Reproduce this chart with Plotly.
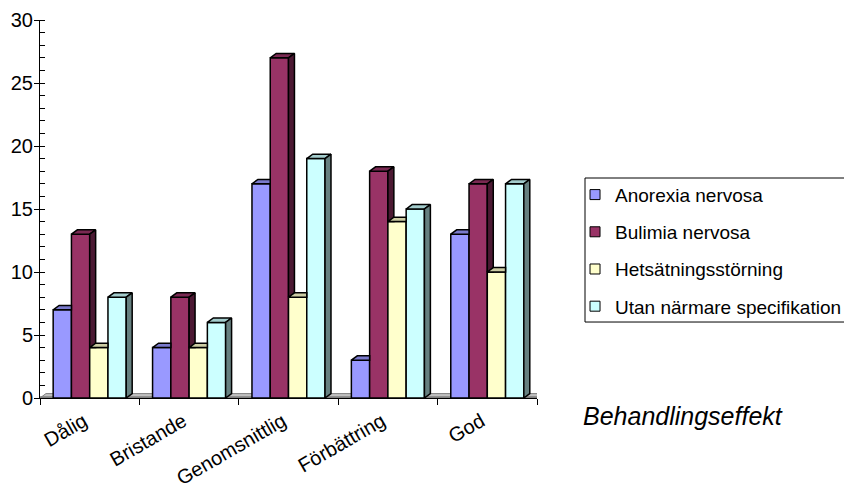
import plotly.graph_objects as go

# ---- data ----
categories = ["Dålig", "Bristande", "Genomsnittlig", "Förbättring", "God"]
series_names = ["Anorexia nervosa", "Bulimia nervosa", "Hetsätningsstörning", "Utan närmare specifikation"]
anorexia = [7, 4, 17, 3, 13]
bulimia = [13, 8, 27, 18, 17]
hets = [4, 4, 8, 14, 10]
utan = [8, 6, 19, 15, 17]
y_ticks = [0, 5, 10, 15, 20, 25, 30]

# ---- styles ----
front_colors = ["#9999FF", "#993366", "#FFFFCC", "#CCFFFF"]
top_colors = ["#7A7ACC", "#7A2952", "#CCCCA3", "#A3CCCC"]
side_colors = ["#4C4C80", "#4C1933", "#808066", "#668080"]
FONT = "Arial, 'Liberation Sans', sans-serif"

values = [anorexia, bulimia, hets, utan]
n_series = len(values)
xpos = list(range(len(categories)))
group_width = 0.735
w = group_width / n_series
dx, dy = 0.06, 0.35  # oblique depth in data units
label_shift = 0.06   # rotated labels end at the top-right corner like the original

fig = go.Figure()

# front faces
for j, vals in enumerate(values):
    fig.add_trace(go.Bar(
        x=xpos, y=vals, name=series_names[j],
        width=w, offset=-group_width / 2 + j * w,
        marker=dict(color=front_colors[j], line=dict(color="black", width=1.5)),
        showlegend=False,
    ))

# top & side faces (oblique 3D effect), clipped by the next bar in front
for j, vals in enumerate(values):
    top_x, top_y, side_x, side_y = [], [], [], []
    for i, v in enumerate(vals):
        x0 = xpos[i] - group_width / 2 + j * w
        x1 = x0 + w
        nxt = values[j + 1][i] if j + 1 < n_series else None
        if nxt is not None and nxt > v:
            top_x += [x0, x0 + dx, x1, x1, x0, None]
            top_y += [v, v + dy, v + dy, v, v, None]
        else:
            top_x += [x0, x0 + dx, x1 + dx, x1, x0, None]
            top_y += [v, v + dy, v + dy, v, v, None]
        if nxt is None:
            side_x += [x1, x1, x1 + dx, x1 + dx, x1, None]
            side_y += [0, v, v + dy, dy, 0, None]
        elif nxt < v:
            lo = nxt
            side_x += [x1, x1, x1 + dx, x1 + dx, x1, None]
            side_y += [lo, v, v + dy, max(lo, dy), lo, None]
    fig.add_trace(go.Scatter(x=top_x, y=top_y, mode="lines", fill="toself",
                             fillcolor=top_colors[j], line=dict(color="black", width=1.5),
                             showlegend=False, hoverinfo="skip"))
    if side_x:
        fig.add_trace(go.Scatter(x=side_x, y=side_y, mode="lines", fill="toself",
                                 fillcolor=side_colors[j], line=dict(color="black", width=1.5),
                                 showlegend=False, hoverinfo="skip"))

# legend entries
for j in range(n_series):
    fig.add_trace(go.Scatter(
        x=[None], y=[None], mode="markers", name=series_names[j],
        legendgroup=f"g{j}",
        marker=dict(symbol="square", size=10, color=front_colors[j],
                    line=dict(color="black", width=1)),
    ))

xmin, xmax = -0.5, len(categories) - 0.5

# floor
fig.add_shape(type="path", xref="x", yref="y", layer="below",
              path=f"M {xmin},0 L {xmin + dx},{dy} L {xmax + dx},{dy} L {xmax},0 Z",
              fillcolor="#C0C0C0", line=dict(color="#808080", width=1))
fig.add_shape(type="rect", xref="x", yref="y", layer="below",
              x0=xmin, x1=xmax, y0=0, y1=0.14,
              fillcolor="#808080", line=dict(width=0))

# legend border
fig.add_shape(type="rect", xref="paper", yref="paper",
              x0=1.0966, x1=1.75, y0=0.201, y1=0.582,
              line=dict(color="black", width=1), fillcolor="rgba(0,0,0,0)")

fig.add_annotation(text="<i>Behandlingseffekt</i>", xref="paper", yref="paper",
                   x=1.0885, y=-0.048, xanchor="left", yanchor="middle",
                   showarrow=False, font=dict(family=FONT, size=25, color="black"))

fig.update_layout(
    width=844, height=481,
    margin=dict(l=32, r=315, t=12, b=91, autoexpand=False),
    paper_bgcolor="white", plot_bgcolor="white",
    barmode="overlay",
    font=dict(family=FONT, color="black"),
    legend=dict(x=1.0765, y=0.588, xanchor="left", yanchor="top",
                font=dict(family=FONT, size=19, color="black"),
                bgcolor="rgba(0,0,0,0)", borderwidth=0,
                traceorder="grouped", tracegroupgap=9.5),
    xaxis=dict(range=[xmin, xmax], tickmode="array",
               tickvals=[x - label_shift for x in xpos], ticktext=categories,
               ticks="", tickangle=-30, showgrid=False, zeroline=False,
               showline=True, linecolor="black", linewidth=1,
               tickfont=dict(family=FONT, size=20, color="black"),
               ticklabelstandoff=3,
               minor=dict(tickmode="linear", tick0=-0.5, dtick=1, ticks="outside",
                          ticklen=6, tickcolor="black", tickwidth=1, showgrid=False)),
    yaxis=dict(range=[0, 30], tickmode="array", tickvals=y_ticks,
               ticks="outside", ticklen=5, tickcolor="black", tickwidth=1,
               showgrid=False, zeroline=False, showline=True, linecolor="black", linewidth=1,
               tickfont=dict(family=FONT, size=20, color="black"),
               ticklabelstandoff=-3,
               minor=dict(tickmode="linear", tick0=0, dtick=1, ticks="inside",
                          ticklen=5, tickcolor="black", tickwidth=1, showgrid=False)),
)

fig.write_html("out.html")
